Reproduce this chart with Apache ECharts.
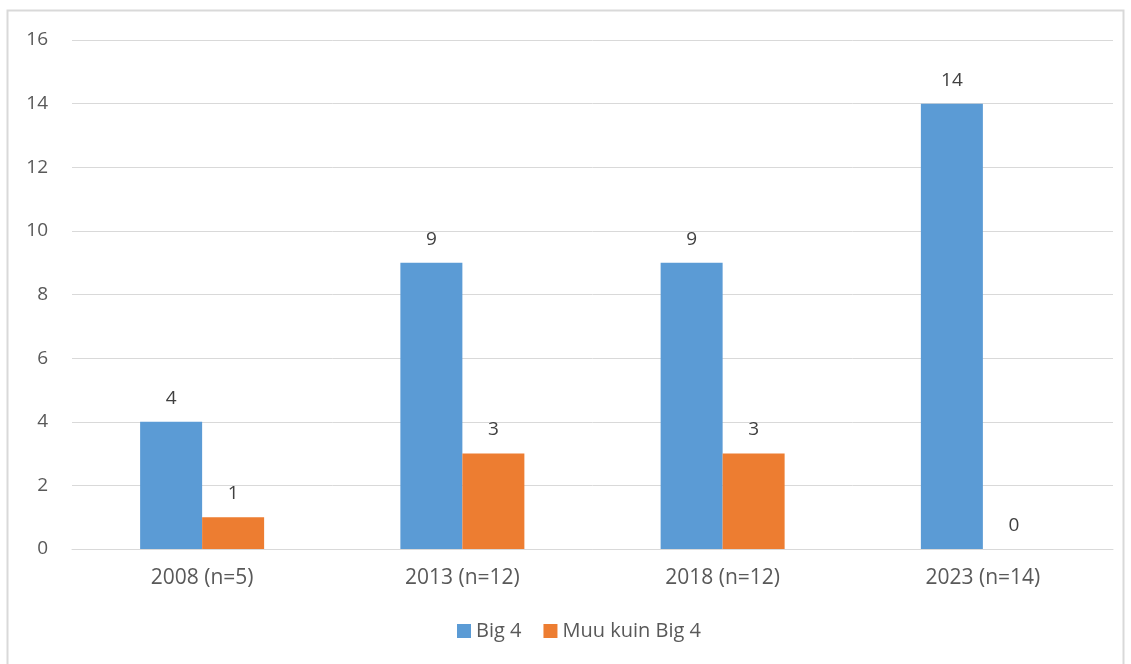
<!DOCTYPE html>
<html>
<head>
<meta charset="utf-8">
<script src="https://cdn.jsdelivr.net/npm/echarts@6/dist/echarts.min.js"></script>
<style>
    html, body { margin: 0; padding: 0; background: #fff; }
    #chart { width: 1131px; height: 664px; }
</style>
</head>
<body>
<div id="chart"></div>
<script>
    var categories = ['2008 (n=5)', '2013 (n=12)', '2018 (n=12)', '2023 (n=14)'];
    var big4 = [4, 9, 9, 14];
    var muuKuinBig4 = [1, 3, 3, 0];
    var seriesNames = ['Big 4', 'Muu kuin Big 4'];

    var font = '"Open Sans", "Liberation Sans", sans-serif';
    var myChart = echarts.init(document.getElementById('chart'));
    myChart.setOption({
        animation: false,
        textStyle: {fontFamily: font},
        graphic: [{
            type: 'rect',
            shape: {x: 7.5, y: 10.5, width: 1116, height: 670},
            style: {fill: 'none', stroke: '#d9d9d9', lineWidth: 2}
        }],
        grid: {left: 72, right: 18, top: 40, bottom: 115},
        legend: {
            bottom: 18,
            left: 452,
            itemWidth: 14,
            itemHeight: 14,
            itemGap: 22,
            icon: 'rect',
            textStyle: {color: '#595959', fontSize: 20, fontFamily: font},
            data: seriesNames
        },
        xAxis: {
            type: 'category',
            data: categories,
            axisLine: {lineStyle: {color: '#d9d9d9', width: 1}},
            axisTick: {show: false},
            axisLabel: {color: '#595959', fontSize: 21, margin: 19, fontFamily: font}
        },
        yAxis: {
            type: 'value',
            min: 0,
            max: 16,
            interval: 2,
            axisLine: {show: false},
            axisTick: {show: false},
            axisLabel: {color: '#595959', fontSize: 19, margin: 24, fontFamily: font},
            splitLine: {lineStyle: {color: '#d9d9d9', width: 1}}
        },
        series: [{
            name: seriesNames[0],
            type: 'bar',
            data: big4,
            barWidth: 62,
            barGap: '0%',
            itemStyle: {color: '#5b9bd5'},
            label: {show: true, position: 'top', distance: 14, color: '#404040', fontSize: 19, fontFamily: font}
        }, {
            name: seriesNames[1],
            type: 'bar',
            data: muuKuinBig4,
            barWidth: 62,
            barGap: '0%',
            itemStyle: {color: '#ed7d31'},
            label: {show: true, position: 'top', distance: 14, color: '#404040', fontSize: 19, fontFamily: font}
        }]
    });
    window.onresize = function () {
        myChart.resize();
    };
</script>
</body>
</html>
